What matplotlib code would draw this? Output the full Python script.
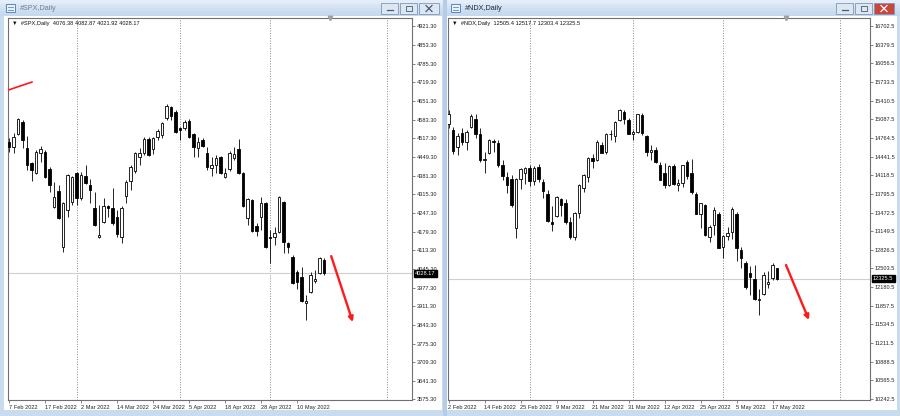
import matplotlib
matplotlib.use("Agg")
import matplotlib.pyplot as plt
from matplotlib.patches import Rectangle
import matplotlib.transforms as mtransforms
import numpy as np

plt.rcParams['font.family'] = ['Liberation Sans', 'DejaVu Sans']

# ---- SPX daily, 7 Feb 2022 .. 18 May 2022 (one value per bar)
spx_open = [4503, 4485, 4532, 4575, 4481, 4427, 4391, 4463, 4467, 4405,
            4268, 4326, 4124, 4257, 4286, 4391, 4301, 4380, 4348, 4265,
            4160, 4214, 4272, 4265, 4232, 4160, 4308, 4362, 4398, 4449,
            4463, 4514, 4477, 4521, 4528, 4589, 4629, 4611, 4553, 4553,
            4578, 4532, 4481, 4510, 4463, 4409, 4420, 4449, 4376, 4405,
            4445, 4477, 4391, 4228, 4293, 4200, 4232, 4283, 4160, 4160,
            4178, 4286, 4138, 4088, 4033, 4016, 3922, 3961, 4001, 4030,
            4076.38]
spx_high = [4517, 4535, 4589, 4582, 4524, 4431, 4474, 4488, 4474, 4412,
            4358, 4348, 4286, 4387, 4380, 4394, 4394, 4420, 4369, 4322,
            4275, 4301, 4275, 4337, 4257, 4272, 4366, 4420, 4467, 4481,
            4521, 4521, 4521, 4550, 4575, 4640, 4633, 4618, 4557, 4582,
            4586, 4535, 4521, 4517, 4485, 4449, 4456, 4452, 4409, 4470,
            4485, 4514, 4394, 4301, 4297, 4210, 4304, 4286, 4185, 4196,
            4308, 4290, 4142, 4095, 4041, 4052, 3951, 4034, 4041, 4088,
            4082.87]
spx_low = [4467, 4463, 4528, 4481, 4402, 4362, 4388, 4431, 4373, 4322,
           4265, 4225, 4106, 4232, 4275, 4275, 4293, 4350, 4283, 4200,
           4156, 4210, 4232, 4203, 4160, 4138, 4283, 4330, 4391, 4420,
           4456, 4452, 4459, 4510, 4517, 4582, 4582, 4535, 4510, 4546,
           4517, 4449, 4449, 4485, 4402, 4380, 4391, 4387, 4373, 4398,
           4438, 4388, 4268, 4203, 4178, 4163, 4185, 4120, 4066, 4131,
           4174, 4102, 4102, 3990, 3972, 3925, 3860, 3958, 3994, 4026,
           4021.92]
spx_close = [4485, 4521, 4586, 4510, 4420, 4402, 4467, 4477, 4376, 4348,
             4304, 4228, 4283, 4384, 4376, 4301, 4384, 4355, 4329, 4203,
             4167, 4272, 4265, 4210, 4171, 4265, 4358, 4412, 4463, 4463,
             4514, 4456, 4517, 4542, 4571, 4633, 4597, 4539, 4546, 4575,
             4521, 4485, 4503, 4488, 4412, 4420, 4445, 4391, 4391, 4463,
             4459, 4391, 4272, 4297, 4181, 4181, 4283, 4124, 4157, 4174,
             4304, 4142, 4124, 3994, 3997, 3929, 3929, 4023, 4008, 4084,
             4028.17]
spx_dates = ['7 Feb 2022', '17 Feb 2022', '2 Mar 2022', '14 Mar 2022', '24 Mar 2022',
             '5 Apr 2022', '18 Apr 2022', '28 Apr 2022', '10 May 2022']
spx_date_bars = [0, 8, 16, 24, 32, 40, 48, 56, 64]
spx_months = [15, 38, 58, 84]
spx_levels = ['4921.30', '4853.30', '4785.30', '4719.30', '4651.30', '4583.30', '4517.30',
              '4449.30', '4381.30', '4315.30', '4247.30', '4179.30', '4113.30', '4045.30',
              '3977.30', '3911.30', '3843.30', '3775.30', '3709.30', '3641.30', '3575.30']

# ---- NDX daily, 2 Feb 2022 .. 18 May 2022
ndx_open = [15000, 14900, 14600, 14850, 14690, 14950, 15100, 14840, 14380, 14500,
            14710, 14680, 14290, 14080, 14050, 13200, 14060, 14150, 14240, 14020,
            14260, 14000, 13800, 13300, 13420, 13700, 13640, 13300, 13050, 13470,
            13900, 14080, 14420, 14380, 14650, 14520, 14840, 14790, 15080, 15220,
            15080, 14840, 14870, 15160, 14790, 14520, 14560, 14300, 14150, 13950,
            14280, 13950, 13990, 14350, 14150, 13800, 13450, 13600, 13050, 13250,
            13450, 12880, 13070, 13140, 13450, 12830, 12600, 12420, 12320, 11960,
            12060, 12240, 12330, 12505.4]
ndx_high = [15250, 14950, 14850, 14930, 14900, 15180, 15170, 14930, 14520, 14740,
            14750, 14720, 14380, 14180, 14120, 14070, 14250, 14260, 14300, 14280,
            14320, 14050, 13860, 13580, 13750, 13730, 13710, 13400, 13480, 13970,
            14140, 14430, 14480, 14720, 14700, 14850, 14900, 15050, 15265, 15240,
            15110, 14900, 15180, 15200, 14820, 14650, 14600, 14340, 14330, 14290,
            14310, 14050, 14300, 14380, 14400, 13830, 13640, 13620, 13260, 13560,
            13480, 13090, 13230, 13560, 13480, 12880, 12640, 12550, 12560, 12140,
            12450, 12460, 12590, 12517.7]
ndx_low = [14940, 14480, 14470, 14640, 14560, 14930, 14760, 14340, 14150, 14480,
           14520, 14260, 14030, 13810, 13570, 13030, 13880, 13960, 13930, 13950,
           14000, 13730, 13300, 13150, 13400, 13410, 13280, 13020, 12990, 13380,
           13820, 14000, 14250, 14370, 14500, 14480, 14720, 14700, 15050, 15000,
           14830, 14720, 14850, 14820, 14450, 14380, 14330, 14030, 13900, 13930,
           13950, 13850, 13920, 14060, 13790, 13440, 13210, 13060, 12960, 13080,
           12850, 12680, 12990, 13020, 12630, 12510, 12150, 12050, 11960, 11700,
           12040, 12170, 12310, 12303.4]
ndx_close = [15170, 14530, 14800, 14690, 14870, 15150, 14840, 14380, 14400, 14720,
             14700, 14290, 14110, 13950, 13600, 14050, 14230, 14240, 14010, 14250,
             14060, 13840, 13320, 13270, 13740, 13610, 13300, 13050, 13460, 13950,
             14130, 14420, 14370, 14690, 14510, 14840, 14840, 15040, 15240, 15090,
             14840, 14860, 15170, 14850, 14520, 14560, 14350, 14040, 13950, 14270,
             13960, 13990, 14290, 14110, 13820, 13450, 13630, 13080, 13230, 13520,
             12860, 13070, 13120, 13530, 12850, 12690, 12190, 12360, 11980, 11980,
             12390, 12270, 12560, 12325.5]
ndx_dates = ['2 Feb 2022', '14 Feb 2022', '25 Feb 2022', '9 Mar 2022', '21 Mar 2022',
             '31 Mar 2022', '12 Apr 2022', '25 Apr 2022', '5 May 2022', '17 May 2022']
ndx_date_bars = [0, 8, 16, 24, 32, 40, 48, 56, 64, 72]
ndx_months = [18, 41, 61, 87]
ndx_levels = ['16702.5', '16379.5', '16056.5', '15733.5', '15410.5', '15087.5', '14764.5',
              '14441.5', '14118.5', '13795.5', '13472.5', '13149.5', '12826.5', '12503.5',
              '12180.5', '11857.5', '11534.5', '11211.5', '10888.5', '10565.5', '10242.5']

W, H = 900, 416
fig = plt.figure(figsize=(9, 4.16), dpi=100)

# window chrome, drawn in pixel space
bg = fig.add_axes([0, 0, 1, 1])
bg.set_xlim(0, W)
bg.set_ylim(H, 0)
bg.axis('off')
bg.add_patch(Rectangle((0, 0), W, H, color='#c9dbef'))
tb = ['#e4edf8', '#dce8f5', '#d5e3f3', '#cfdff1', '#c9dbef', '#c4d8ee']
for k, c in enumerate(tb):
    bg.add_patch(Rectangle((0, k * 2.7), W, 2.8, color=c, lw=0))
bg.add_patch(Rectangle((443, 0), 4, H, color='#b7cce6', lw=0))
bg.add_patch(Rectangle((4, 16), 438, 394, color='white', lw=0))
bg.add_patch(Rectangle((447, 16), 450, 394, color='white', lw=0))


def title(x0, name, btn_x, active):
    bg.add_patch(Rectangle((x0 + 2, 4), 9, 8, fc='#e9f1fb', ec='#5d86c0', lw=0.7))
    bg.plot([x0 + 4, x0 + 9], [7, 7], color='#5d86c0', lw=0.6)
    bg.plot([x0 + 4, x0 + 9], [9.5, 9.5], color='#5d86c0', lw=0.6)
    bg.text(x0 + 16, 8.5, name, fontsize=5.2, va='center',
            color='#1e2b3c' if active else '#6f7f93')
    for j, bx in enumerate(btn_x):
        red = active and j == 2
        bw = 20 if j == 2 else 17
        bg.add_patch(Rectangle((bx, 3), bw, 11, fc='#c8463c' if red else '#dde7f3',
                               ec='#8097b5', lw=0.6))
        gc = 'white' if red else '#4a5a70'
        cx = bx + bw / 2
        if j == 0:
            bg.plot([cx - 3, cx + 3], [10, 10], color=gc, lw=0.9)
        elif j == 1:
            bg.add_patch(Rectangle((cx - 3, 5.5), 6, 5, fc='none', ec=gc, lw=0.6))
        else:
            bg.plot([cx - 3, cx + 3], [5.5, 11.5], color=gc, lw=0.9)
            bg.plot([cx - 3, cx + 3], [11.5, 5.5], color=gc, lw=0.9)


title(4, '#SPX,Daily', [381, 400, 419], False)
title(449, '#NDX,Daily', [836, 855, 874], True)


def chart(px, width, o, h, l, c, ylim, dates, date_bars, months, levels, name, x0px):
    ax = fig.add_axes([px / W, (H - 400) / H, width / W, 382 / H])
    o, h, l, c = map(np.asarray, (o, h, l, c))
    x = np.arange(len(o))
    ax.set_xlim((px - x0px) / 4.5, (px + width - x0px) / 4.5)
    ax.set_ylim(*ylim)
    for m in months:
        ax.axvline(m, color='#8a8a8a', lw=0.7, ls=(0, (1, 1.6)), zorder=1)
    ax.axhline(c[-1], color='#cfcfcf', lw=0.8, zorder=1)
    ax.vlines(x, l, h, color='black', lw=0.6, zorder=2)
    up = c >= o
    ax.bar(x, np.abs(c - o), width=0.64, bottom=np.minimum(o, c),
           color=np.where(up, 'white', 'black'), edgecolor='black',
           linewidth=0.6, zorder=3)
    for s in ax.spines.values():
        s.set_color('#707070')
        s.set_linewidth(0.8)
    ax.yaxis.tick_right()
    ax.set_yticks([float(v) for v in levels], levels)
    ax.set_xticks(date_bars, dates)
    for t in ax.get_xticklabels():
        t.set_ha('left')
    ax.tick_params(axis='both', labelsize=4.1, length=2.2, width=0.5, color='#555555',
                   pad=1, labelcolor='#222222')
    ax.tick_params(axis='y', pad=1.2)
    ax.tick_params(axis='x', pad=1.5)
    fmt = '%.2f' if name == '#SPX,Daily' else '%.1f'
    # OHLC info line
    info = name + '  ' + ' '.join(fmt % v for v in (o[-1], h[-1], l[-1], c[-1]))
    ax.text(4 / width, 1 - 6 / 382, '\u25bc  ' + info, transform=ax.transAxes,
            fontsize=4.1, va='center', ha='left', color='#111111')
    # current price tag
    tr = mtransforms.blended_transform_factory(ax.transAxes, ax.transData)
    ax.text(1 + 3 / width, c[-1], fmt % c[-1], transform=tr, fontsize=4.1, color='white',
            va='center', ha='left', zorder=5, clip_on=False,
            bbox=dict(boxstyle='square,pad=0.2', fc='black', ec='black'))
    return ax


ax1 = chart(8, 404, spx_open, spx_high, spx_low, spx_close, (3571.7, 4950.1),
            spx_dates, spx_date_bars, spx_months, spx_levels, '#SPX,Daily', 9)
ax2 = chart(448, 422, ndx_open, ndx_high, ndx_low, ndx_close, (10225.2, 16841.1),
            ndx_dates, ndx_date_bars, ndx_months, ndx_levels, '#NDX,Daily', 448.5)

# chart-shift markers at the top edge
ax1.plot([71.3], [4950.1], marker='v', ms=3.2, color='#a0a0a0', clip_on=False, zorder=6)
ax2.plot([75.0], [16841.1], marker='v', ms=3.2, color='#a0a0a0', clip_on=False, zorder=6)

# hand-drawn red arrows
arrow = dict(arrowstyle='-|>', color='#ff1a1a', lw=1.7, mutation_scale=7, shrinkA=0, shrinkB=0)
ax1.annotate('', xy=(76.4, 3853), xytext=(71.6, 4091), arrowprops=arrow, zorder=6)
ax2.annotate('', xy=(80.1, 11611), xytext=(75.0, 12563), arrowprops=arrow, zorder=6)
ax1.plot([-0.2, 5.1], [4690, 4719], color='#ff1a1a', lw=1.2, zorder=6)

fig.savefig('out.png', dpi=100)
